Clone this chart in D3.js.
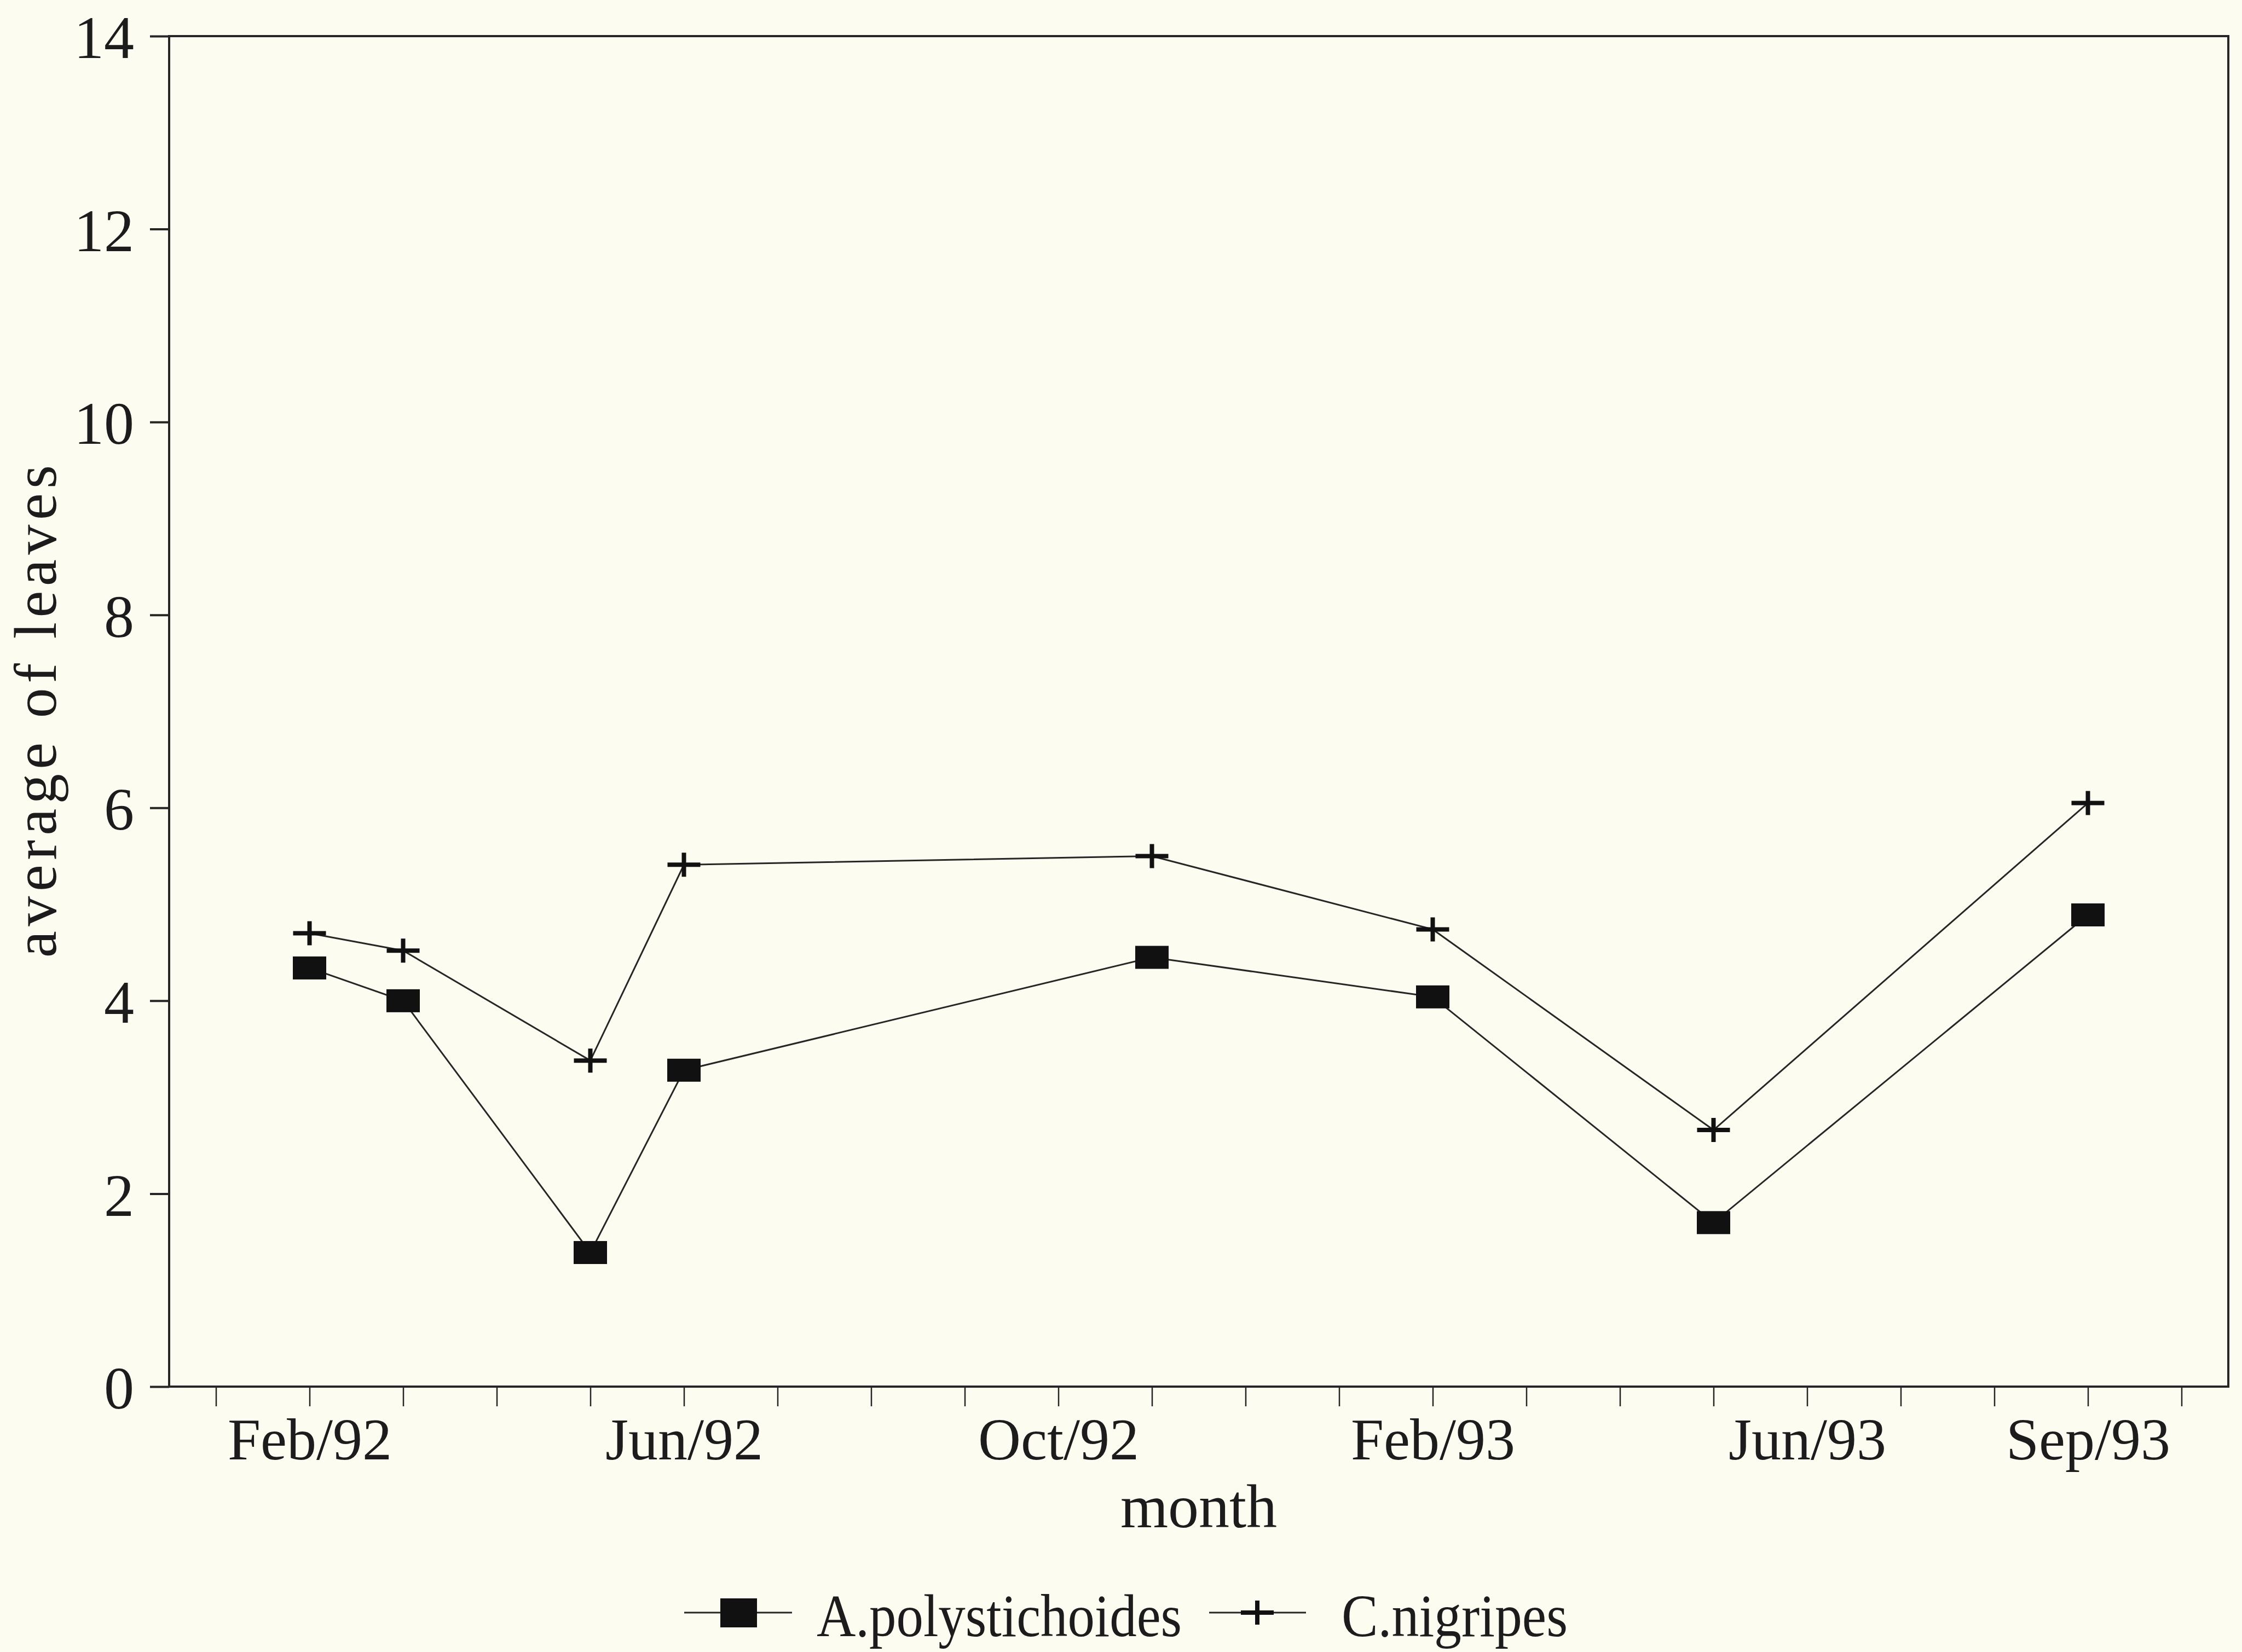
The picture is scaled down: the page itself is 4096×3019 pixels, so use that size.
<!DOCTYPE html>
<html>
<head>
<meta charset="utf-8">
<script src="https://cdn.jsdelivr.net/npm/d3@7"></script>
<style>
  body { margin: 0; background: #fdfcf0; }
  svg text { font-family: "Liberation Serif", "DejaVu Serif", serif; fill: #1c1c1c; }
</style>
</head>
<body>
<div id="chart"></div>
<script>
// month index, 0 = Jan/92
const months = [1, 2, 4, 5, 10, 13, 16, 20];
const polystichoides = [4.34, 4.00, 1.39, 3.28, 4.45, 4.04, 1.70, 4.89];
const nigripes = [4.70, 4.52, 3.38, 5.41, 5.50, 4.74, 2.66, 6.05];

// x axis labels
const labelMonths = [1, 5, 9, 13, 17, 20];
const labelNames = ["Feb/92", "Jun/92", "Oct/92", "Feb/93", "Jun/93", "Sep/93"];
const yTicks = [0, 2, 4, 6, 8, 10, 12, 14];

const seriesNames = ["A.polystichoides", "C.nigripes"];

const width = 4096, height = 3019;
const plot = { left: 309, right: 4071, top: 66, bottom: 2534 };

const svg = d3.select("#chart").append("svg")
    .attr("width", width)
    .attr("height", height)
    .style("background", "#fdfcf0");

const x = d3.scaleLinear().domain([-0.5, 21.5]).range([plot.left, plot.right]);
const y = d3.scaleLinear().domain([0, 14]).range([plot.bottom, plot.top]);

const ink = "#262626";

// frame
svg.append("rect")
    .attr("x", plot.left)
    .attr("y", plot.top)
    .attr("width", plot.right - plot.left)
    .attr("height", plot.bottom - plot.top)
    .attr("fill", "none")
    .attr("stroke", ink)
    .attr("stroke-width", 4);

// y axis
const yAxis = svg.append("g")
    .attr("transform", `translate(${plot.left},0)`)
    .call(d3.axisLeft(y).tickValues(yTicks).tickSize(35).tickPadding(29).tickFormat(d3.format("d")));
yAxis.select(".domain").remove();
yAxis.selectAll(".tick line").attr("stroke", ink).attr("stroke-width", 4);
yAxis.selectAll(".tick text")
    .attr("font-size", 110)
    .attr("font-family", null)
    .attr("fill", null)
    .attr("dy", "0.36em");

// x axis, one tick per month
const lookup = new Map(labelMonths.map((m, i) => [m, labelNames[i]]));
const xAxis = svg.append("g")
    .attr("transform", `translate(0,${plot.bottom})`)
    .call(d3.axisBottom(x).tickValues(d3.range(0, 22)).tickSize(36)
        .tickFormat(d => lookup.get(d) || ""));
xAxis.select(".domain").remove();
xAxis.selectAll(".tick line").attr("stroke", ink).attr("stroke-width", 2.5);
xAxis.selectAll(".tick text")
    .attr("font-size", 108)
    .attr("font-family", null)
    .attr("fill", null)
    .attr("y", 133)
    .attr("dy", null);

// axis titles
svg.append("text")
    .attr("x", (plot.left + plot.right) / 2)
    .attr("y", 2791)
    .attr("text-anchor", "middle")
    .attr("font-size", 112)
    .text("month");

svg.append("text")
    .attr("transform", `translate(102,${(plot.top + plot.bottom) / 2}) rotate(-90)`)
    .attr("text-anchor", "middle")
    .attr("font-size", 110)
    .attr("textLength", 900)
    .attr("lengthAdjust", "spacing")
    .text("average of leaves");

// lines
const line = d3.line()
    .x((d, i) => x(months[i]))
    .y(d => y(d));

svg.append("path")
    .datum(polystichoides)
    .attr("d", line)
    .attr("fill", "none")
    .attr("stroke", ink)
    .attr("stroke-width", 3);

svg.append("path")
    .datum(nigripes)
    .attr("d", line)
    .attr("fill", "none")
    .attr("stroke", ink)
    .attr("stroke-width", 3);

// markers
const sqW = 61, sqH = 42;
svg.append("g").selectAll("rect")
    .data(polystichoides)
    .join("rect")
    .attr("x", (d, i) => x(months[i]) - sqW / 2)
    .attr("y", d => y(d) - sqH / 2)
    .attr("width", sqW)
    .attr("height", sqH)
    .attr("fill", "#111");

const plusW = 60, plusH = 44;
function plusPath(cx, cy, w, h) {
    return `M${cx - w / 2},${cy}H${cx + w / 2}M${cx},${cy - h / 2}V${cy + h / 2}`;
}
svg.append("g").selectAll("path")
    .data(nigripes)
    .join("path")
    .attr("d", (d, i) => plusPath(x(months[i]), y(d), plusW, plusH))
    .attr("stroke", "#111")
    .attr("stroke-width", 8)
    .attr("fill", "none");

// legend
const legY = 2947;
const legend = svg.append("g");

legend.append("line")
    .attr("x1", 1250).attr("x2", 1447)
    .attr("y1", legY).attr("y2", legY)
    .attr("stroke", ink).attr("stroke-width", 3);
legend.append("rect")
    .attr("x", 1316).attr("y", legY - 26)
    .attr("width", 67).attr("height", 53)
    .attr("fill", "#111");
legend.append("text")
    .attr("x", 1492).attr("y", 2990)
    .attr("font-size", 110)
    .attr("textLength", 667)
    .attr("lengthAdjust", "spacingAndGlyphs")
    .text(seriesNames[0]);

legend.append("line")
    .attr("x1", 2209).attr("x2", 2386)
    .attr("y1", legY).attr("y2", legY)
    .attr("stroke", ink).attr("stroke-width", 3);
legend.append("path")
    .attr("d", plusPath(2297, legY, 60, 44))
    .attr("stroke", "#111")
    .attr("stroke-width", 8);
legend.append("text")
    .attr("x", 2451).attr("y", 2990)
    .attr("font-size", 110)
    .attr("textLength", 413)
    .attr("lengthAdjust", "spacingAndGlyphs")
    .text(seriesNames[1]);
</script>
</body>
</html>
